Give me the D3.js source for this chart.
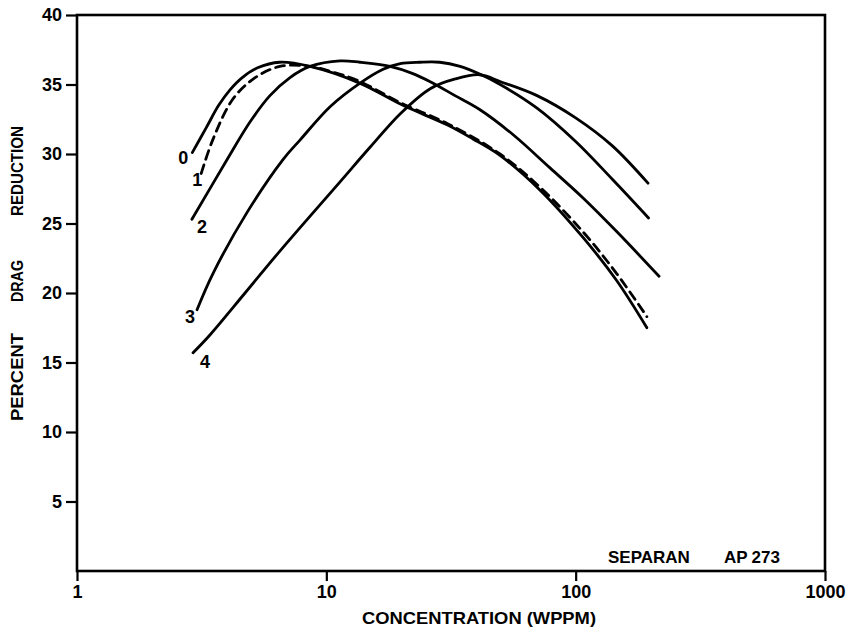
<!DOCTYPE html>
<html lang="en">
<head>
<meta charset="utf-8">
<script src="https://d3js.org/d3.v7.min.js"></script>
<style>
  body { margin: 0; background: #fff; }
  text { font-family: "Liberation Sans", Arial, sans-serif; font-weight: bold; fill: #000; }
</style>
</head>
<body>
<div id="chart"></div>
<script>
// concentration (wppm) and percent drag reduction
const x0 = [2.9, 3.3, 3.7, 4.1, 4.6, 5.3, 6.5, 8.6, 13.6, 20.3, 30.5, 38.6, 49.7, 72, 107, 146, 193];
const y0 = [30.1, 31.9, 33.5, 34.6, 35.5, 36.2, 36.6, 36.3, 35.1, 33.5, 32.1, 31.1, 29.9, 27.4, 24.0, 20.9, 17.5];

const x1 = [3.15, 3.5, 4.2, 5.1, 6.5, 8.6, 10.6, 13.3, 20.3, 30.5, 49.7, 72, 107, 146, 193];
const y1 = [28.6, 31.0, 33.9, 35.4, 36.3, 36.3, 35.9, 35.3, 33.6, 32.2, 30.0, 27.6, 24.4, 21.4, 18.3];

const x2 = [2.89, 4.0, 4.94, 5.94, 7.15, 8.6, 11.35, 13.65, 18.0, 22.1, 26.1, 32.8, 41.2, 56, 78.9, 107.6, 146.4, 216];
const y2 = [25.3, 29.6, 32.3, 34.2, 35.5, 36.3, 36.7, 36.6, 36.3, 35.8, 35.2, 34.2, 33.2, 31.4, 29.0, 26.8, 24.4, 21.2];

const x3 = [3.03, 3.51, 4.81, 6.7, 7.84, 10.35, 13.65, 16.9, 19.8, 23.7, 28.5, 34.4, 41.2, 49.8, 70, 100, 140, 196];
const y3 = [18.8, 21.4, 25.8, 29.6, 31.0, 33.4, 35.1, 36.1, 36.5, 36.6, 36.6, 36.3, 35.75, 35.0, 33.3, 30.9, 28.2, 25.4];

const x4 = [2.92, 3.42, 4.72, 6.5, 11.35, 15.0, 19.8, 26.1, 32.9, 41.2, 50, 70, 100, 140, 195];
const y4 = [15.7, 17.0, 20.0, 23.0, 28.0, 30.5, 32.9, 34.7, 35.4, 35.7, 35.2, 34.2, 32.6, 30.6, 27.9];

const curveNames = ["0", "1", "2", "3", "4"];
const dashed = [false, true, false, false, false];
// label offset from the first point of each curve, px
const labelDx = [-9, -4, 10, -7, 12];
const labelDy = [5, 7, 8, 7, 9];

const xTicks = [1, 10, 100, 1000];
const yTicks = [5, 10, 15, 20, 25, 30, 35, 40];

const width = 855, height = 629;
const margin = {top: 15, right: 30, bottom: 58, left: 77};
const w = width - margin.left - margin.right;
const h = height - margin.top - margin.bottom;

const svg = d3.select("#chart").append("svg")
  .attr("width", width)
  .attr("height", height);

const g = svg.append("g")
  .attr("transform", `translate(${margin.left},${margin.top})`);

const x = d3.scaleLog().domain([1, 1000]).range([0, w]);
const y = d3.scaleLinear().domain([0, 40]).range([h, 0]);

// frame
g.append("rect")
  .attr("width", w).attr("height", h)
  .attr("fill", "none").attr("stroke", "#000").attr("stroke-width", 2.6);

const yAxis = g.append("g")
  .call(d3.axisLeft(y).tickValues(yTicks).tickSize(11).tickSizeOuter(0).tickPadding(4));

const xAxis = g.append("g")
  .attr("transform", `translate(0,${h})`)
  .call(d3.axisBottom(x).tickValues(xTicks).tickFormat(d3.format("d")).tickSize(10).tickSizeOuter(0).tickPadding(4));

[yAxis, xAxis].forEach(a => {
  a.attr("font-family", null).attr("font-size", 18);
  a.select(".domain").remove();
  a.selectAll(".tick line").attr("stroke-width", 2.2);
});

// curves
const series = [[x0, y0], [x1, y1], [x2, y2], [x3, y3], [x4, y4]]
  .map((s, i) => ({name: curveNames[i], pts: s[0].map((v, j) => [v, s[1][j]])}));

const line = d3.line()
  .x(d => x(d[0]))
  .y(d => y(d[1]))
  .curve(d3.curveCatmullRom.alpha(0.5));

g.selectAll("path.curve")
  .data(series)
  .join("path")
  .attr("class", "curve")
  .attr("fill", "none")
  .attr("stroke", "#000")
  .attr("stroke-width", 2.8)
  .attr("stroke-linecap", "round")
  .attr("stroke-dasharray", (d, i) => dashed[i] ? "9,6" : null)
  .attr("d", d => line(d.pts));

g.selectAll("text.lab")
  .data(series)
  .join("text")
  .attr("class", "lab")
  .attr("x", (d, i) => x(d.pts[0][0]) + labelDx[i])
  .attr("y", (d, i) => y(d.pts[0][1]) + labelDy[i])
  .attr("text-anchor", "middle")
  .attr("dominant-baseline", "central")
  .attr("font-size", 18)
  .text(d => d.name);

// titles
g.append("text")
  .attr("x", 402).attr("y", h + 53)
  .attr("text-anchor", "middle")
  .attr("font-size", 17)
  .attr("textLength", 234)
  .attr("lengthAdjust", "spacingAndGlyphs")
  .text("CONCENTRATION  (WPPM)");

const note = g.append("text")
  .attr("x", 531).attr("y", h - 8)
  .attr("font-size", 17);
note.append("tspan").text("SEPARAN");
note.append("tspan").attr("dx", 34).text("AP");
note.append("tspan").attr("dx", 4).text("273");

const yTitle = [["REDUCTION", 171, 90], ["DRAG", 281, 42], ["PERCENT", 377, 88]];
yTitle.forEach(([t, cy, len]) => {
  svg.append("text")
    .attr("transform", `translate(23,${cy}) rotate(-90)`)
    .attr("text-anchor", "middle")
    .attr("font-size", 17)
    .attr("textLength", len)
    .attr("lengthAdjust", "spacingAndGlyphs")
    .text(t);
});
</script>
</body>
</html>
